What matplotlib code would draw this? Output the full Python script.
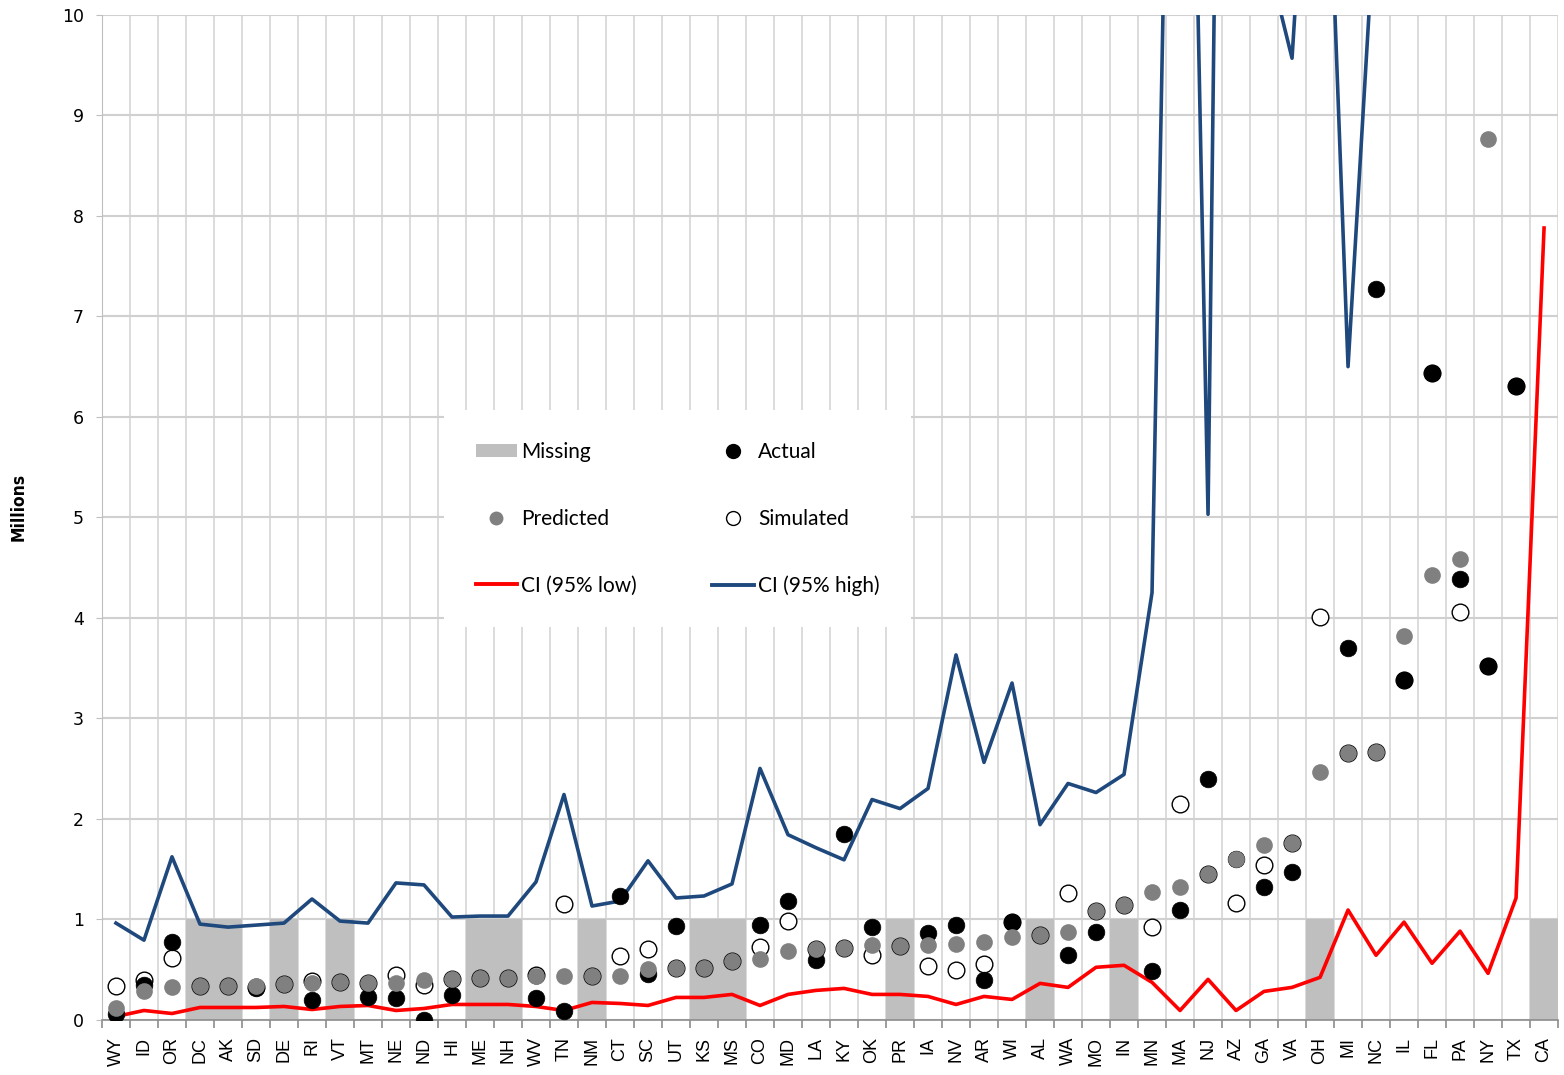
import numpy as np
import matplotlib.pyplot as plt
from matplotlib.patches import Patch
from matplotlib.lines import Line2D

nan = np.nan

states = ["WY", "ID", "OR", "DC", "AK", "SD", "DE", "RI", "VT", "MT", "NE", "ND", "HI",
          "ME", "NH", "WV", "TN", "NM", "CT", "SC", "UT", "KS", "MS", "CO", "MD", "LA",
          "KY", "OK", "PR", "IA", "NV", "AR", "WI", "AL", "WA", "MO", "IN", "MN", "MA",
          "NJ", "AZ", "GA", "VA", "OH", "MI", "NC", "IL", "FL", "PA", "NY", "TX", "CA"]

# 1 = no reported data for that state
missing = [0, 0, 0, 1, 1, 0, 1, 0, 1, 0, 0, 0, 0,
           1, 1, 0, 0, 1, 0, 0, 0, 1, 1, 0, 0, 0,
           0, 0, 1, 0, 0, 0, 0, 1, 0, 0, 1, 0, 0,
           0, 0, 0, 0, 1, 0, 0, 0, 0, 0, 0, 0, 1]

# all values in millions
actual = [0.06, 0.34, 0.77, nan, nan, 0.31, nan, 0.19, nan, 0.22, 0.21, 0.00, 0.24,
          nan, nan, 0.21, 0.08, nan, 1.23, 0.45, 0.93, nan, nan, 0.94, 1.18, 0.59,
          1.85, 0.92, nan, 0.86, 0.94, 0.39, 0.97, nan, 0.64, 0.87, nan, 0.48, 1.09,
          2.39, 1.60, 1.32, 1.47, nan, 3.70, 7.27, 3.38, 6.44, 4.39, 3.52, 6.31, nan]

predicted = [0.11, 0.28, 0.32, 0.33, 0.33, 0.33, 0.35, 0.36, 0.37, 0.36, 0.36, 0.39, 0.40,
             0.41, 0.41, 0.43, 0.43, 0.43, 0.43, 0.50, 0.51, 0.51, 0.58, 0.60, 0.68, 0.70,
             0.71, 0.74, 0.73, 0.74, 0.75, 0.77, 0.82, 0.84, 0.87, 1.08, 1.14, 1.27, 1.32,
             1.45, 1.60, 1.74, 1.76, 2.46, 2.65, 2.66, 3.82, 4.43, 4.58, 8.77, nan, nan]

simulated = [0.33, 0.39, 0.61, 0.33, 0.33, 0.32, 0.35, 0.38, 0.37, 0.36, 0.44, 0.34, 0.40,
             0.41, 0.41, 0.44, 1.15, 0.43, 0.63, 0.70, 0.51, 0.51, 0.58, 0.72, 0.98, 0.70,
             0.71, 0.64, 0.73, 0.53, 0.49, 0.55, 0.97, 0.84, 1.26, 1.08, 1.14, 0.92, 2.15,
             1.45, 1.16, 1.54, 1.76, 4.01, 2.65, 2.66, 3.38, 6.44, 4.06, 3.52, 6.31, nan]

ci_low = [0.03, 0.09, 0.06, 0.12, 0.12, 0.12, 0.13, 0.10, 0.13, 0.14, 0.09, 0.11, 0.15,
          0.15, 0.15, 0.13, 0.09, 0.17, 0.16, 0.14, 0.22, 0.22, 0.25, 0.14, 0.25, 0.29,
          0.31, 0.25, 0.25, 0.23, 0.15, 0.23, 0.20, 0.36, 0.32, 0.52, 0.54, 0.37, 0.09,
          0.40, 0.09, 0.28, 0.32, 0.42, 1.09, 0.64, 0.97, 0.56, 0.88, 0.46, 1.21, 7.88]

ci_high = [0.96, 0.79, 1.62, 0.95, 0.92, 0.94, 0.96, 1.20, 0.98, 0.96, 1.36, 1.34, 1.02,
           1.03, 1.03, 1.37, 2.24, 1.13, 1.18, 1.58, 1.21, 1.23, 1.35, 2.50, 1.84, 1.71,
           1.59, 2.19, 2.10, 2.30, 3.63, 2.56, 3.35, 1.94, 2.35, 2.26, 2.44, 4.25, 19.0,
           5.03, 28.0, 10.7, 9.57, 14.0, 6.50, 11.2, nan, nan, nan, nan, nan, nan]

x = np.arange(len(states))

fig = plt.figure(figsize=(15.64, 10.75), dpi=100)
ax = fig.add_axes([0.0652, 0.0516, 0.931, 0.9344])

ax.bar(x, missing, width=1.0, color="#BFBFBF", zorder=2)
ax.plot(x, ci_low, color="#FF0000", lw=2.6, zorder=3)
ax.plot(x, ci_high, color="#1F497D", lw=2.6, zorder=3)
ax.plot(x, simulated, "o", ms=12, mfc="white", mec="black", mew=1.0, ls="none", zorder=4)
ax.plot(x, actual, "o", ms=12, mfc="black", mec="black", mew=0.5, ls="none", zorder=5)
ax.plot(x, predicted, "o", ms=12, mfc="#808080", mec="none", ls="none", zorder=6)

ax.set_xlim(-0.5, len(states) - 0.5)
ax.set_ylim(0, 10)

# category labels on the majors, boundary ticks + vertical grid on the minors
ax.set_xticks(x)
ax.set_xticklabels(states, rotation=90, fontsize=13, family="Liberation Sans")
ax.set_xticks(np.arange(-0.5, len(states)), minor=True)
ax.tick_params(axis="x", which="major", length=0, pad=12.5)
ax.tick_params(axis="x", which="minor", length=6, color="#8C8C8C", width=1.2)
ax.grid(axis="x", which="minor", color="#D9D9D9", lw=1.3, zorder=0)

ax.set_yticks(range(0, 11))
ax.tick_params(axis="y", labelsize=12.5, length=4, color="#BFBFBF", pad=9)
ax.grid(axis="y", which="major", color="#D0D0D0", lw=1.5, zorder=0)
ax.set_axisbelow(True)

for s in ["top", "right"]:
    ax.spines[s].set_visible(False)
ax.spines["left"].set_color("#BFBFBF")
ax.spines["bottom"].set_color("#8C8C8C")
ax.spines["bottom"].set_linewidth(1.2)

ax.set_ylabel("Millions", fontsize=12.5, fontweight="bold", fontstretch="condensed")
ax.yaxis.set_label_coords(-0.051, 0.51)

handles = [
    Patch(facecolor="#BFBFBF", edgecolor="none", label="Missing"),
    Line2D([], [], marker="o", ls="none", ms=10, mfc="#808080", mec="none", label="Predicted"),
    Line2D([], [], color="#FF0000", lw=2.8, label="CI (95% low)"),
    Line2D([], [], marker="o", ls="none", ms=10, mfc="black", mec="black", label="Actual"),
    Line2D([], [], marker="o", ls="none", ms=10, mfc="white", mec="black", mew=1.0, label="Simulated"),
    Line2D([], [], color="#1F497D", lw=2.8, label="CI (95% high)"),
]
leg = ax.legend(handles=handles, ncol=2, loc="upper left", bbox_to_anchor=(0.228, 0.6168),
                prop={"family": "Lato", "size": 15}, frameon=True, fancybox=False,
                borderpad=1.5, labelspacing=2.25, handlelength=2.0, handleheight=0.6,
                handletextpad=0.2, columnspacing=3.6)
leg.get_frame().set_facecolor("white")
leg.get_frame().set_edgecolor("none")
leg.get_frame().set_alpha(1.0)
leg.set_zorder(10)

fig.savefig("out.png", dpi=100)
